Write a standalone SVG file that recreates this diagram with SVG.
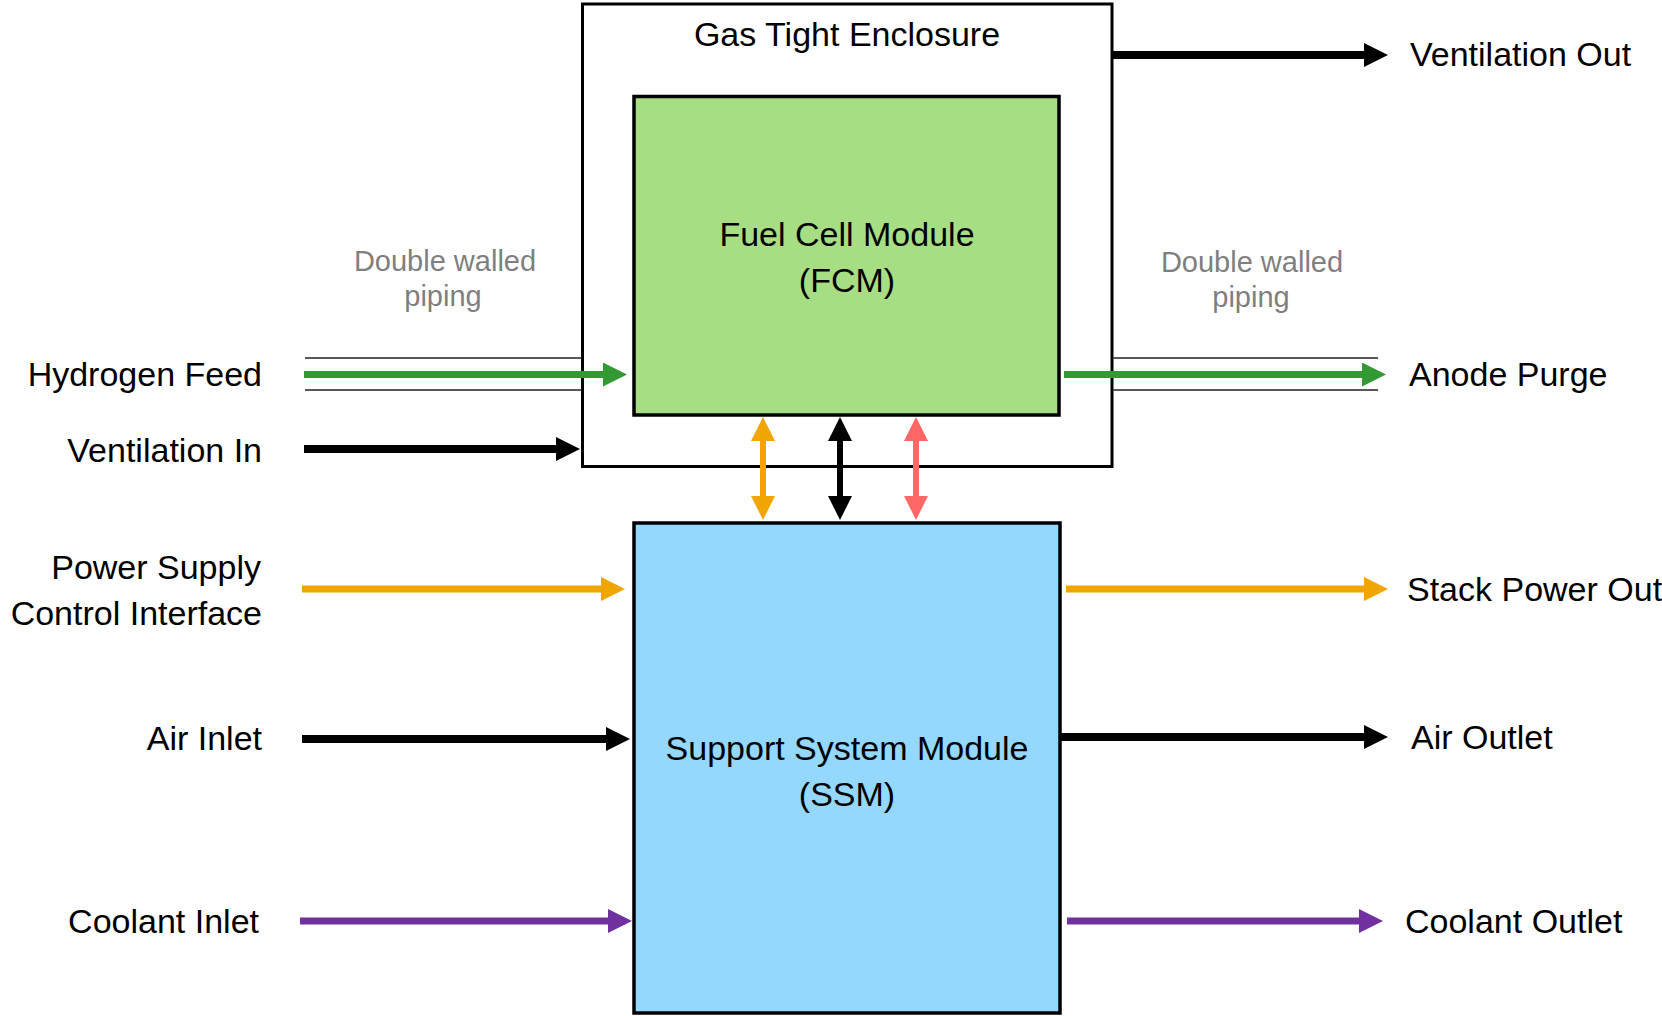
<svg xmlns="http://www.w3.org/2000/svg" width="1662" height="1016" viewBox="0 0 1662 1016">
<style>
  .lbl { font-family: "Liberation Sans", Arial, sans-serif; font-size: 34px; fill: #000; }
  .note { font-family: "Liberation Sans", Arial, sans-serif; font-size: 29px; fill: #7f7f7f; }
  .box { stroke: #000; stroke-width: 3.5; }
  .wall { stroke: #595959; stroke-width: 2; fill: none; }
  .a { fill: none; stroke-linecap: butt; }
  .green { stroke: #339933; stroke-width: 7; marker-end: url(#hG); }
  .black { stroke: #000; stroke-width: 8; marker-end: url(#hK); }
  .orange { stroke: #f0a500; stroke-width: 7; marker-end: url(#hO); }
  .purple { stroke: #7030a0; stroke-width: 7; marker-end: url(#hP); }
  .dO { stroke: #f0a500; stroke-width: 6; marker-start: url(#hO); marker-end: url(#hO); }
  .dK { stroke: #000; stroke-width: 6; marker-start: url(#hK); marker-end: url(#hK); }
  .dR { stroke: #ff6666; stroke-width: 6; marker-start: url(#hR); marker-end: url(#hR); }
</style>
<defs>
  <marker id="hG" markerUnits="userSpaceOnUse" viewBox="0 0 24 24" markerWidth="24" markerHeight="24" refX="2" refY="12" orient="auto-start-reverse"><path d="M0,0 L24,12 L0,24 z" fill="#339933"/></marker>
  <marker id="hK" markerUnits="userSpaceOnUse" viewBox="0 0 24 24" markerWidth="24" markerHeight="24" refX="2" refY="12" orient="auto-start-reverse"><path d="M0,0 L24,12 L0,24 z" fill="#000"/></marker>
  <marker id="hO" markerUnits="userSpaceOnUse" viewBox="0 0 24 24" markerWidth="24" markerHeight="24" refX="2" refY="12" orient="auto-start-reverse"><path d="M0,0 L24,12 L0,24 z" fill="#f0a500"/></marker>
  <marker id="hP" markerUnits="userSpaceOnUse" viewBox="0 0 24 24" markerWidth="24" markerHeight="24" refX="2" refY="12" orient="auto-start-reverse"><path d="M0,0 L24,12 L0,24 z" fill="#7030a0"/></marker>
  <marker id="hR" markerUnits="userSpaceOnUse" viewBox="0 0 24 24" markerWidth="24" markerHeight="24" refX="2" refY="12" orient="auto-start-reverse"><path d="M0,0 L24,12 L0,24 z" fill="#ff6666"/></marker>
</defs>
<rect width="1662" height="1016" fill="#fff"/>

<g id="enclosure">
  <rect x="582.5" y="4" width="529.5" height="462.5" fill="#fff" stroke="#000" stroke-width="3"/>
  <text class="lbl" x="847" y="46" text-anchor="middle">Gas Tight Enclosure</text>
</g>

<g id="fcm">
  <rect class="box" x="634" y="96.5" width="425" height="318.5" fill="#a7de84"/>
  <text class="lbl" x="847" y="246" text-anchor="middle">Fuel Cell Module</text>
  <text class="lbl" x="847" y="292" text-anchor="middle">(FCM)</text>
</g>

<g id="ssm">
  <rect class="box" x="634" y="523" width="426" height="490" fill="#94d8fe"/>
  <text class="lbl" x="847" y="760" text-anchor="middle">Support System Module</text>
  <text class="lbl" x="847" y="806" text-anchor="middle">(SSM)</text>
</g>

<g id="piping-left">
  <line class="wall" x1="305" y1="358" x2="581" y2="358"/>
  <line class="wall" x1="305" y1="390" x2="581" y2="390"/>
  <text class="note" x="445" y="271" text-anchor="middle">Double walled</text>
  <text class="note" x="443" y="306" text-anchor="middle">piping</text>
</g>

<g id="piping-right">
  <line class="wall" x1="1113" y1="358" x2="1378" y2="358"/>
  <line class="wall" x1="1113" y1="390" x2="1378" y2="390"/>
  <text class="note" x="1252" y="272" text-anchor="middle">Double walled</text>
  <text class="note" x="1251" y="307" text-anchor="middle">piping</text>
</g>

<g id="labels-left">
  <text class="lbl" x="262" y="386" text-anchor="end">Hydrogen Feed</text>
  <text class="lbl" x="262" y="462" text-anchor="end">Ventilation In</text>
  <text class="lbl" x="261" y="579" text-anchor="end">Power Supply</text>
  <text class="lbl" x="262" y="625" text-anchor="end">Control Interface</text>
  <text class="lbl" x="262" y="750" text-anchor="end">Air Inlet</text>
  <text class="lbl" x="259" y="933" text-anchor="end">Coolant Inlet</text>
</g>

<g id="labels-right">
  <text class="lbl" x="1410" y="66">Ventilation Out</text>
  <text class="lbl" x="1409" y="386">Anode Purge</text>
  <text class="lbl" x="1407" y="601">Stack Power Out</text>
  <text class="lbl" x="1411" y="749">Air Outlet</text>
  <text class="lbl" x="1405" y="933">Coolant Outlet</text>
</g>

<g id="connectors">
  <line class="a green" x1="304" y1="374.5" x2="605" y2="374.5"/>
  <line class="a black" x1="304" y1="449" x2="558" y2="449"/>
  <line class="a orange" x1="302" y1="589" x2="603" y2="589"/>
  <line class="a black" x1="302" y1="739" x2="608" y2="739"/>
  <line class="a purple" x1="300" y1="921" x2="610" y2="921"/>

  <line class="a black" x1="1112" y1="55" x2="1366" y2="55"/>
  <line class="a green" x1="1064" y1="374.5" x2="1364" y2="374.5"/>
  <line class="a orange" x1="1066" y1="589" x2="1366" y2="589"/>
  <line class="a black" x1="1060" y1="737" x2="1366" y2="737"/>
  <line class="a purple" x1="1067" y1="921" x2="1361" y2="921"/>

  <line class="a dO" x1="763" y1="439" x2="763" y2="498"/>
  <line class="a dK" x1="840" y1="439" x2="840" y2="498"/>
  <line class="a dR" x1="916" y1="439" x2="916" y2="498"/>
</g>
</svg>
